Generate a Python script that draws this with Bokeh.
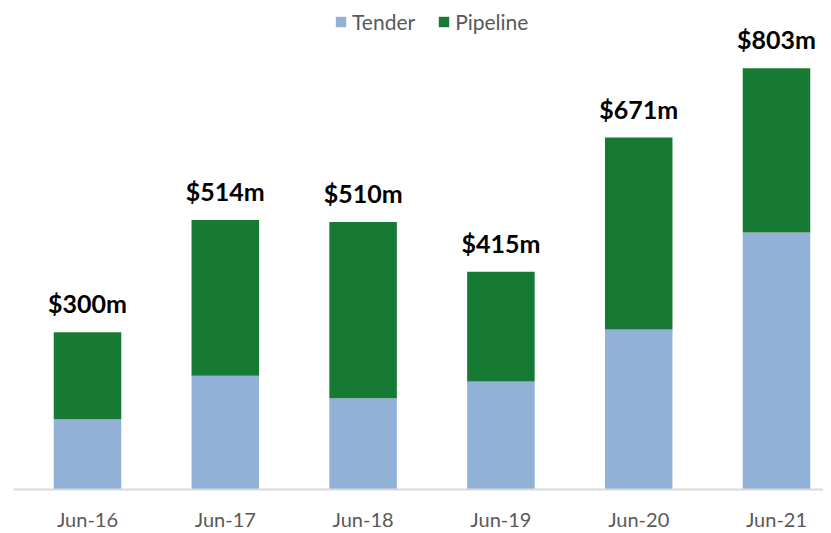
import numpy as np
from bokeh.plotting import figure
from bokeh.models import Range1d, FixedTicker, ColumnDataSource, Legend, LegendItem
from bokeh.core.properties import value
from bokeh.embed import file_html
from bokeh.resources import INLINE

categories = ["Jun-16", "Jun-17", "Jun-18", "Jun-19", "Jun-20", "Jun-21"]
tender = [134, 217, 174, 206, 305, 490]
totals = [300, 514, 510, 415, 671, 803]
pipeline = [t - a for t, a in zip(totals, tender)]
labels = ["$300m", "$514m", "$510m", "$415m", "$671m", "$803m"]

TENDER_C = "#92B1D7"
PIPE_C = "#177A34"
FONT = "Lato"

x = np.arange(len(categories))
src = ColumnDataSource(dict(x=x, tender=tender, pipeline=pipeline, total=totals, label=labels))

p = figure(frame_width=810, frame_height=481, output_backend="svg", toolbar_location=None,
           x_range=Range1d(-0.537, 5.341), y_range=Range1d(0, 917),
           min_border_left=13, min_border_right=0, min_border_top=8, min_border_bottom=10)
p.outline_line_color = None
p.background_fill_color = "white"
p.border_fill_color = "white"
p.xgrid.visible = False
p.ygrid.visible = False
p.yaxis.visible = False

r = p.vbar_stack(["tender", "pipeline"], x="x", width=0.49, source=src,
                 color=[TENDER_C, PIPE_C], line_color=None)

p.text(x="x", y="total", text="label", source=src, text_align="center",
       text_baseline="alphabetic", y_offset=-29, text_font=value(FONT),
       text_font_style="bold", text_font_size="25px", text_color="black")

ax = p.xaxis[0]
ax.ticker = FixedTicker(ticks=list(x))
ax.major_label_overrides = {int(i): c for i, c in zip(x, categories)}
ax.axis_line_color = "#D9D9D9"
ax.axis_line_width = 2
ax.major_tick_line_color = None
ax.minor_tick_line_color = None
ax.major_label_standoff = 11
ax.major_label_text_font = FONT
ax.major_label_text_font_size = "20px"
ax.major_label_text_color = "#595959"

legend = Legend(items=[LegendItem(label="Tender", renderers=[r[0]]),
                       LegendItem(label="Pipeline", renderers=[r[1]])],
                orientation="horizontal", location=(321, 455),
                border_line_color=None, background_fill_alpha=0,
                glyph_width=13, glyph_height=13, label_text_font=FONT,
                label_text_font_size="21px", label_text_color="#595959",
                padding=0, margin=0, spacing=22, label_standoff=5)
p.add_layout(legend, "center")

open("out.html", "w").write(file_html(p, INLINE))
